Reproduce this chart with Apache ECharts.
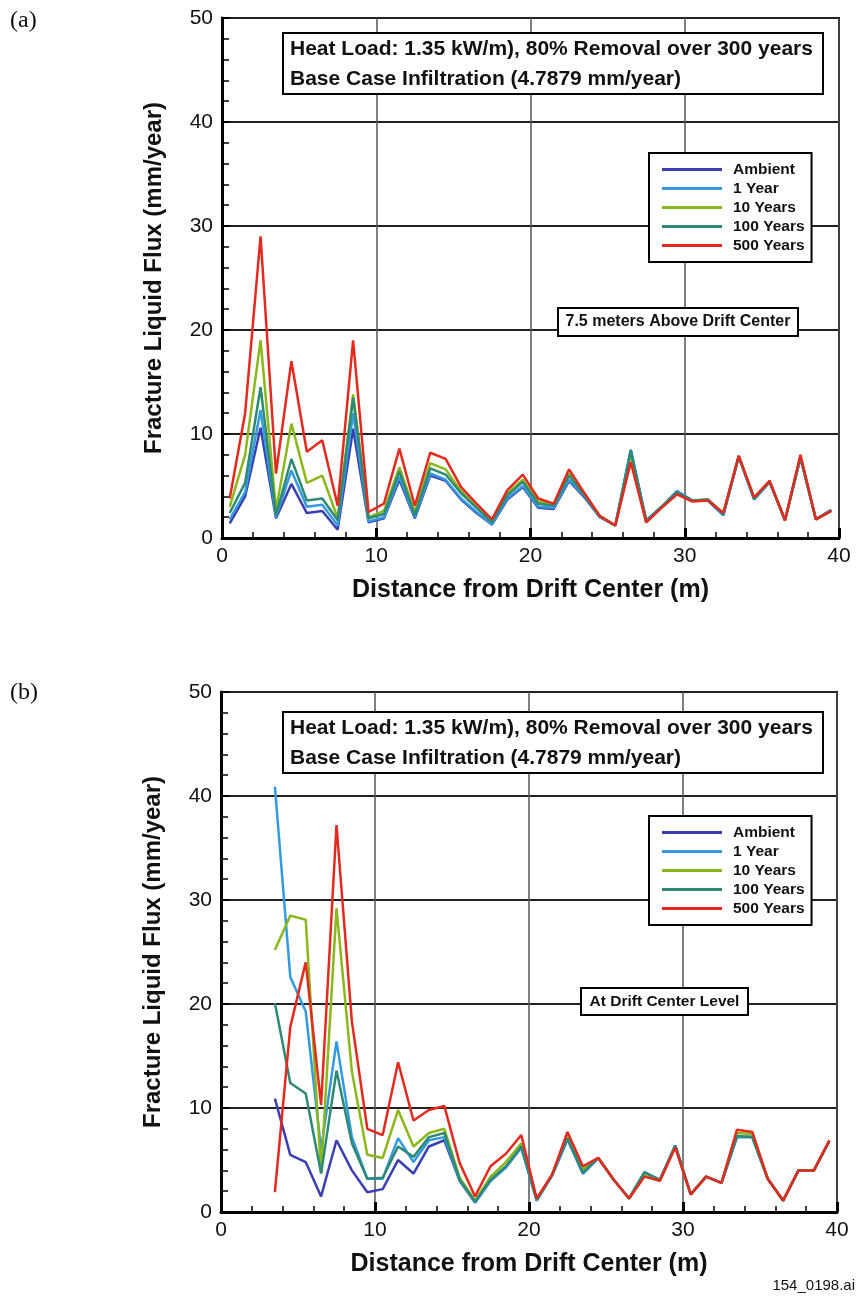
<!DOCTYPE html>
<html>
<head>
<meta charset="utf-8">
<script src="https://cdn.jsdelivr.net/npm/echarts@6/dist/echarts.min.js"></script>
<style>
html,body{margin:0;padding:0;background:#fff;}
#chart{width:859px;height:1296px;}
</style>
</head>
<body>
<div id="chart"></div>
<script>
// distances (m) at which the flux is given
var xTop = [0.5,1.5,2.5,3.5,4.5,5.5,6.5,7.5,8.5,9.5,10.5,11.5,12.5,13.5,14.5,15.5,16.5,17.5,18.5,19.5,
            20.5,21.5,22.5,23.5,24.5,25.5,26.5,27.5,28.5,29.5,30.5,31.5,32.5,33.5,34.5,35.5,36.5,37.5,38.5,39.5];
var xBot = [3.5,4.5,5.5,6.5,7.5,8.5,9.5,10.5,11.5,12.5,13.5,14.5,15.5,16.5,17.5,18.5,19.5,
            20.5,21.5,22.5,23.5,24.5,25.5,26.5,27.5,28.5,29.5,30.5,31.5,32.5,33.5,34.5,35.5,36.5,37.5,38.5,39.5];

var seriesNames = ['Ambient','1 Year','10 Years','100 Years','500 Years'];
var seriesColors = ['#3a3fb4','#3399e0','#8ab81a','#2e8a74','#e42a1e'];

// (a) 7.5 m above drift center
var topAmbient = [1.4,4.0,10.6,1.9,5.2,2.4,2.6,0.8,10.5,1.5,1.9,5.6,1.9,6.0,5.5,3.7,2.4,1.3,3.7,4.9,
                  2.9,2.8,5.5,3.9,2.0,1.2,8.4,1.7,3.0,4.5,3.6,3.6,2.2,7.8,3.7,5.4,1.7,7.7,1.8,2.7];
var top1Year   = [1.8,4.4,12.3,2.0,6.5,3.0,3.2,1.2,12.0,1.6,2.0,5.9,2.0,6.2,5.6,3.8,2.5,1.3,3.8,5.0,
                  3.0,2.9,5.6,4.0,2.0,1.2,8.5,1.7,3.0,4.5,3.6,3.6,2.2,7.8,3.7,5.4,1.7,7.7,1.8,2.7];
var top10Year  = [3.0,8.0,19.0,2.7,11.0,5.3,6.0,1.9,13.8,2.0,2.6,6.8,2.5,7.2,6.6,4.5,3.0,1.6,4.3,5.6,
                  3.5,3.2,6.2,4.2,2.1,1.2,8.0,1.5,3.0,4.3,3.6,3.7,2.4,7.9,3.8,5.5,1.7,7.9,1.8,2.6];
var top100Year = [2.4,5.3,14.5,2.2,7.6,3.6,3.8,1.7,13.5,1.9,2.3,6.4,2.2,6.7,6.1,4.3,2.9,1.5,4.1,5.4,
                  3.3,3.1,6.0,4.1,2.1,1.2,8.4,1.6,3.0,4.4,3.6,3.7,2.3,7.9,3.8,5.4,1.7,7.8,1.8,2.6];
var top500Year = [3.8,12.0,29.0,6.2,17.0,8.3,9.4,3.1,19.0,2.5,3.3,8.6,3.1,8.2,7.6,4.9,3.3,1.8,4.6,6.1,
                  3.8,3.3,6.6,4.3,2.1,1.2,7.3,1.5,2.9,4.2,3.5,3.6,2.4,7.9,3.9,5.5,1.7,8.0,1.8,2.6];

// (b) at drift center level
var botAmbient = [10.9,5.5,4.8,1.5,6.9,4.0,1.9,2.2,5.0,3.7,6.3,6.9,3.0,0.9,3.0,4.3,6.2,
                  1.1,3.5,7.0,3.7,5.2,3.1,1.3,3.8,3.1,6.4,1.7,3.4,2.8,7.2,7.2,3.2,1.1,4.0,4.0,6.8];
var bot1Year   = [40.9,22.6,19.3,6.0,16.4,7.2,3.2,3.2,7.1,4.8,6.9,7.2,3.0,0.9,3.0,4.3,6.2,
                  1.1,3.5,7.0,3.7,5.2,3.1,1.3,3.8,3.1,6.4,1.7,3.4,2.8,7.2,7.2,3.2,1.1,4.0,4.0,6.8];
var bot10Year  = [25.2,28.5,28.1,3.8,29.2,13.5,5.5,5.2,9.8,6.3,7.6,8.0,3.3,1.1,3.4,4.8,6.6,
                  1.2,3.6,7.4,4.1,5.2,3.1,1.3,3.5,3.0,6.3,1.7,3.4,2.8,7.6,7.5,3.2,1.1,4.0,4.0,6.8];
var bot100Year = [20.1,12.4,11.4,3.7,13.6,6.6,3.2,3.3,6.3,5.3,7.2,7.6,3.1,1.0,3.1,4.4,6.3,
                  1.2,3.6,7.1,3.8,5.2,3.1,1.3,3.8,3.1,6.4,1.7,3.4,2.8,7.3,7.2,3.2,1.1,4.0,4.0,6.8];
var bot500Year = [1.9,17.8,24.0,10.3,37.2,18.3,8.0,7.4,14.4,8.8,9.8,10.2,4.7,1.5,4.4,5.6,7.4,
                  1.3,3.6,7.7,4.4,5.2,3.1,1.3,3.4,3.0,6.2,1.7,3.4,2.8,7.9,7.7,3.2,1.1,4.0,4.0,6.9];

var topSets = [topAmbient, top1Year, top10Year, top100Year, top500Year];
var botSets = [botAmbient, bot1Year, bot10Year, bot100Year, bot500Year];

var FONT = '"Liberation Sans", Arial, sans-serif';

function pairs(xs, ys){
	var out = [];
	for(var i = 0; i < xs.length; i++){
		out.push([xs[i], ys[i]]);
	}
	return out;
}

function makeX(idx){
	return {
		gridIndex: idx, type: 'value', min: 0, max: 40, interval: 10,
		name: 'Distance from Drift Center (m)', nameLocation: 'middle', nameGap: 40,
		nameTextStyle: {fontFamily: FONT, fontWeight: 'bold', fontSize: 25, color: '#111'},
		axisLine: {show: true, onZero: false, lineStyle: {color: '#000', width: 3}},
		axisTick: {show: true, inside: true, length: 10, lineStyle: {color: '#000', width: 3}},
		minorTick: {show: true, splitNumber: 5, length: 6, lineStyle: {color: '#000', width: 1.5}},
		axisLabel: {fontFamily: FONT, fontSize: 21, color: '#111', margin: 8},
		splitLine: {show: true, lineStyle: {color: '#555', width: 1.5}}
	};
}
function makeY(idx){
	return {
		gridIndex: idx, type: 'value', min: 0, max: 50, interval: 10,
		name: 'Fracture Liquid Flux (mm/year)', nameLocation: 'middle', nameGap: 56, nameRotate: 90,
		nameTextStyle: {fontFamily: FONT, fontWeight: 'bold', fontSize: 24, color: '#111'},
		axisLine: {show: true, onZero: false, lineStyle: {color: '#000', width: 3}},
		axisTick: {show: true, inside: true, length: 8, lineStyle: {color: '#000', width: 2}},
		minorTick: {show: true, splitNumber: 5, length: 7, lineStyle: {color: '#000', width: 1.5}},
		axisLabel: {fontFamily: FONT, fontSize: 21, color: '#111', margin: 9},
		splitLine: {show: true, lineStyle: {color: '#222', width: 2}}
	};
}
function makeLegend(top){
	return {
		left: 649, top: top, orient: 'vertical',
		data: seriesNames,
		icon: 'rect', itemWidth: 60, itemHeight: 3, itemGap: 0,
		padding: [7, 7, 7, 13],
		borderColor: '#000', borderWidth: 2, backgroundColor: '#fff',
		selectedMode: false,
		textStyle: {fontFamily: FONT, fontWeight: 'bold', fontSize: 15.5, color: '#111',
			lineHeight: 19, padding: [0, 0, 0, 6]}
	};
}

var series = [];
for(var i = 0; i < seriesNames.length; i++){
	series.push({
		name: seriesNames[i], type: 'line', xAxisIndex: 0, yAxisIndex: 0,
		data: pairs(xTop, topSets[i]), showSymbol: false, animation: false,
		color: seriesColors[i], lineStyle: {width: 2.5, color: seriesColors[i]}
	});
}
for(var j = 0; j < seriesNames.length; j++){
	series.push({
		name: seriesNames[j], type: 'line', xAxisIndex: 1, yAxisIndex: 1,
		data: pairs(xBot, botSets[j]), showSymbol: false, animation: false,
		color: seriesColors[j], lineStyle: {width: 2.5, color: seriesColors[j]}
	});
}

function boxText(x, y, w, h, lines, font){
	var els = [{type: 'rect', shape: {x: x, y: y, width: w, height: h},
		style: {fill: '#fff', stroke: '#000', lineWidth: 2}, z: 100}];
	for(var k = 0; k < lines.length; k++){
		els.push({type: 'text', x: lines[k][0], y: lines[k][1], z: 101,
			style: {text: lines[k][2], font: font, fill: '#111',
				align: lines[k][3] || 'left', verticalAlign: 'middle'}});
	}
	return els;
}

var heatLine1 = 'Heat Load: 1.35 kW/m), 80% Removal over 300 years';
var heatLine2 = 'Base Case Infiltration (4.7879 mm/year)';
var bigFont = 'bold 21px ' + FONT;

var graphics = [].concat(
	boxText(283, 33, 540, 61, [[290, 49, heatLine1], [290, 79, heatLine2]], bigFont),
	boxText(283, 712, 540, 61, [[290, 728, heatLine1], [290, 758, heatLine2]], bigFont),
	boxText(558, 308, 240, 28, [[678, 322, '7.5 meters Above Drift Center', 'center']], 'bold 16px ' + FONT),
	boxText(581, 988, 167, 27, [[664.5, 1002, 'At Drift Center Level', 'center']], 'bold 15.5px ' + FONT),
	[
		{type: 'text', x: 10, y: 21, style: {text: '(a)', font: '24px "Liberation Serif", "Times New Roman", serif',
			fill: '#111', verticalAlign: 'middle'}},
		{type: 'text', x: 10, y: 693, style: {text: '(b)', font: '24px "Liberation Serif", "Times New Roman", serif',
			fill: '#111', verticalAlign: 'middle'}},
		{type: 'text', x: 855, y: 1286, style: {text: '154_0198.ai', font: '15px ' + FONT,
			fill: '#111', align: 'right', verticalAlign: 'middle'}}
	]
);

var chart = echarts.init(document.getElementById('chart'));
chart.setOption({
	backgroundColor: '#fff',
	animation: false,
	grid: [
		{left: 222, top: 18, width: 617, height: 520, show: true, borderColor: '#000', borderWidth: 2,
			backgroundColor: '#fff'},
		{left: 221, top: 692, width: 616, height: 520, show: true, borderColor: '#000', borderWidth: 2,
			backgroundColor: '#fff'}
	],
	xAxis: [makeX(0), makeX(1)],
	yAxis: [makeY(0), makeY(1)],
	legend: [makeLegend(153), makeLegend(816)],
	series: series,
	graphic: graphics
});
</script>
</body>
</html>
